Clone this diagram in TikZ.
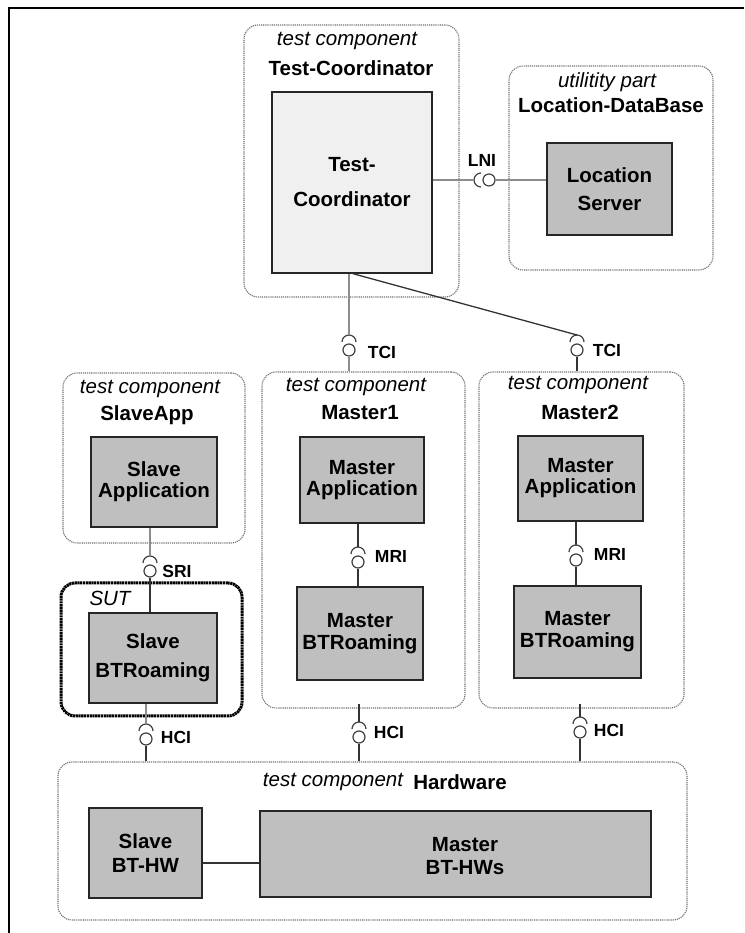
\documentclass[tikz,border=0pt]{standalone}
\usepackage{fontspec}
\setmainfont{Liberation Sans}
\newcommand\MyBallSock[3]{%
  \node[ball] (#1) at (#2,933-#3) {};
  \coordinate (#1s) at ([yshift=15pt]#1.center);
  \draw[sock] ([shift={(-7pt,8pt)}]#1.center) arc[start angle=180,end angle=0,radius=7pt];}
\begin{document}
\begin{tikzpicture}[x=1pt,y=1pt,
  cont/.style={draw=black!55, line width=1.1pt, dash pattern=on 1.2pt off 0.9pt, rounded corners=14pt, inner sep=0pt},
  sutst/.style={draw=black, line width=3pt, dash pattern=on 2.2pt off 0.6pt, rounded corners=14pt, inner sep=0pt},
  comp/.style={draw=black!85, line width=1.4pt, fill=black!25, inner sep=0pt, align=center},
  bf/.style={font=\fontsize{20.5}{#1}\selectfont\bfseries},
  ital/.style={font=\fontsize{20.5}{24}\selectfont\itshape, inner sep=0pt},
  ttl/.style={font=\fontsize{20.5}{24}\selectfont\bfseries, inner sep=0pt},
  ifl/.style={font=\fontsize{17.5}{20}\selectfont\bfseries, inner sep=0pt},
  ball/.style={circle, draw=black!75, line width=1.2pt, fill=white, minimum size=12pt, inner sep=0pt},
  sock/.style={draw=black!75, line width=1.2pt},
  wire/.style={draw=black!80, line width=1.3pt},
  gwire/.style={draw=black!45, line width=1.5pt},
]
\useasboundingbox (0,0) rectangle (744,933);
% frame
\coordinate (frTL) at (9,925);
\draw[line width=1.5pt] (744,925) -- (frTL) -- (9,0);

% containers
\node[cont, minimum width=215pt, minimum height=272pt] (TCcont) at (351.5,772) {};
\node[cont, minimum width=204pt, minimum height=204pt] (LDcont) at (611,765) {};
\node[cont, minimum width=182pt, minimum height=170pt] (SAcont) at (154,475) {};
\node[cont, minimum width=203pt, minimum height=336pt] (M1cont) at (363.5,393) {};
\node[cont, minimum width=205pt, minimum height=336pt] (M2cont) at (581.5,393) {};
\node[sutst, minimum width=181pt, minimum height=133pt] (SUT) at (151.5,283.5) {};
\node[cont, minimum width=629pt, minimum height=158pt] (HW) at (372.5,92) {};

% container titles
\node[ital] (tcit) at (347,892) {test component};
\node[ttl] (tct) at (351,865) {Test-Coordinator};
\node[ital] (ldit) at (607,851) {utilitity part};
\node[ttl] (ldt) at (611,828) {Location-DataBase};
\node[ital] (sait) at (150,544) {test component};
\node[ttl] (sat) at (147,518) {SlaveApp};
\node[ital] (m1it) at (356,546) {test component};
\node[ttl] (m1t) at (360,520) {Master1};
\node[ital] (m2it) at (578,548) {test component};
\node[ttl] (m2t) at (580,521) {Master2};
\node[ital] (sutit) at (110,335) {SUT};
\node[ital] (hwit) at (333,151) {test component};
\node[ttl] (hwt) at (460,151) {Hardware};

% component boxes
\node[comp, fill=black!6, bf=35, minimum width=160pt, minimum height=181pt] (TCbox) at (352,750.5) {Test-\\Coordinator};
\node[comp, bf=28, minimum width=125pt, minimum height=92pt] (LSbox) at (609.5,744) {Location\\Server};
\node[comp, bf=21, minimum width=126pt, minimum height=90pt] (SAbox) at (154,451) {Slave\\Application};
\node[comp, bf=21, minimum width=124pt, minimum height=86pt] (MA1) at (362,453) {Master\\Application};
\node[comp, bf=22, minimum width=126pt, minimum height=93pt] (MBTR1) at (360,299.5) {Master\\BTRoaming};
\node[comp, bf=21, minimum width=125pt, minimum height=85pt] (MA2) at (580.5,454.5) {Master\\Application};
\node[comp, bf=22, minimum width=127pt, minimum height=92pt] (MBTR2) at (577.5,301) {Master\\BTRoaming};
\node[comp, bf=29, minimum width=128pt, minimum height=90pt] (SBTR) at (153,275) {Slave\\BTRoaming};
\node[comp, bf=24, minimum width=113pt, minimum height=90pt] (SBTHW) at (145.5,80) {Slave\\BT-HW};
\node[comp, minimum width=391pt, minimum height=86pt] (MBTHWs) at (455.5,79) {};
\node[bf=23, align=center, inner sep=0pt] (MBTHWst) at (465,76.5) {Master\\BT-HWs};

% ball and socket interfaces
\MyBallSock{tci1}{349}{350}
\MyBallSock{tci2}{577}{350}
\MyBallSock{sri}{150}{571}
\MyBallSock{mri1}{358}{562}
\MyBallSock{mri2}{576}{560}
\MyBallSock{hcis}{146}{739}
\MyBallSock{hci1}{359}{737}
\MyBallSock{hci2}{580}{732}
\node[ball] (lni) at (489,753) {};
\coordinate (lnis) at ([xshift=-15pt]lni.center);
\draw[sock] ([shift={(-8pt,7pt)}]lni.center) arc[start angle=90,end angle=270,radius=7pt];

% connectors
\draw[gwire] (lnis -| TCbox.east) -- (lnis);
\draw[gwire] (lni.east) -- (lni -| LSbox.west);
\draw[gwire] (tci1s |- TCbox.south) -- (tci1s);
\draw[gwire] (tci1.south) -- (tci1 |- M1cont.north);
\draw[wire] ([xshift=1pt]TCbox.south) -- (tci2s);
\draw[wire] (tci2.south) -- (tci2 |- M2cont.north);
\draw[gwire] (sris |- SAbox.south) -- (sris);
\draw[wire] (sri.south) -- (sri |- SBTR.north);
\draw[wire] (mri1s |- MA1.south) -- (mri1s);
\draw[wire] (mri1.south) -- (mri1 |- MBTR1.north);
\draw[wire] (mri2s |- MA2.south) -- (mri2s);
\draw[wire] (mri2.south) -- (mri2 |- MBTR2.north);
\draw[gwire] (hciss |- SBTR.south) -- (hciss);
\draw[wire] (hcis.south) -- (hcis |- HW.north);
\coordinate (m1port) at ([yshift=5pt]M1cont.south);
\coordinate (m2port) at ([yshift=5pt]M2cont.south);
\draw[wire] (hci1s |- m1port) -- (hci1s);
\draw[wire] (hci1.south) -- (hci1 |- HW.north);
\draw[wire] (hci2s |- m2port) -- (hci2s);
\draw[wire] (hci2.south) -- (hci2 |- HW.north);
\coordinate (hwl) at ([yshift=-10pt]SBTHW.east);
\draw[wire] (hwl) -- (hwl -| MBTHWs.west);

% interface labels
\node[ifl] (lLNI) at (482,773) {LNI};
\node[ifl] (lTCI1) at (382,581) {TCI};
\node[ifl] (lTCI2) at (607,583) {TCI};
\node[ifl] (lSRI) at (177,362) {SRI};
\node[ifl] (lMRI1) at (391,377) {MRI};
\node[ifl] (lMRI2) at (610,379) {MRI};
\node[ifl] (lHCIs) at (176,196) {HCI};
\node[ifl] (lHCI1) at (389,201) {HCI};
\node[ifl] (lHCI2) at (609,203) {HCI};
\end{tikzpicture}
\end{document}
